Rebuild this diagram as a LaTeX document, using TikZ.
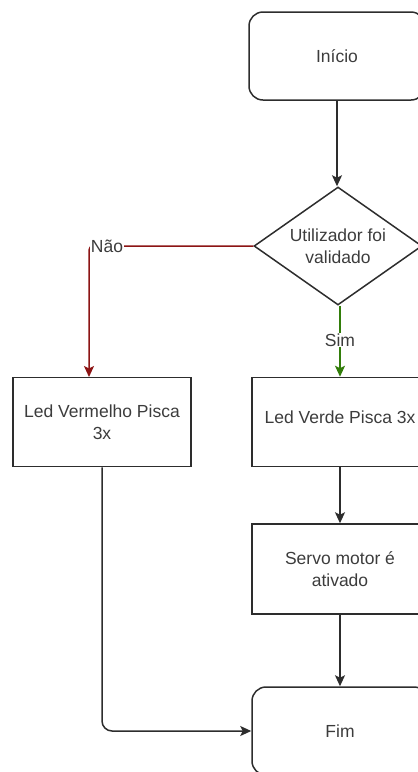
\documentclass[tikz,border=0pt]{standalone}
\usepackage{fontspec}
\setmainfont{Liberation Sans}
\usetikzlibrary{arrows.meta,shapes.geometric}
\definecolor{edgegray}{RGB}{45,45,45}
\definecolor{txtgray}{RGB}{60,60,60}
\definecolor{noRed}{RGB}{140,20,20}
\definecolor{yesGreen}{RGB}{50,125,10}
\tikzset{
  x=1pt, y=-1pt,
  every node/.style={font=\fontsize{17.5}{22}\selectfont, text=txtgray},
  terminal/.style={draw=edgegray, line width=1.5pt, rounded corners=14pt,
    minimum width=176pt, minimum height=88pt, inner sep=0pt},
  process/.style={draw=edgegray, line width=1.5pt,
    minimum width=178pt, minimum height=89pt, inner sep=0pt, align=center},
  decision/.style={draw=edgegray, line width=1.5pt, diamond, aspect=1.42,
    minimum width=168pt, minimum height=118pt, inner sep=0pt, align=center},
  tip/.style={-{Stealth[length=11pt,width=10pt,inset=2.5pt,#1]}},
  flow/.style={draw=edgegray, line width=1.5pt, tip={fill=edgegray}},
  edgelabel/.style={fill=white, inner sep=1pt}
}
\begin{document}
\begin{tikzpicture}
\useasboundingbox (0,0) rectangle (418,772);
\begin{scope}
\clip (0,0) rectangle (418,772);
% start / end terminals
\node[terminal] (start) at (337,56) {Início};
\node[terminal] (fim) at (340,731) {Fim};
% decision
\node[decision] (check) at (338,246) {Utilizador foi\\validado};
% actions
\node[process] (red) at (102,422) {Led Vermelho Pisca\\3x};
\node[process, minimum width=176pt] (green) at (340,422) {\raisebox{10pt}{Led Verde Pisca 3x}};
\node[process, minimum width=176pt, minimum height=90pt] (servo) at (340,569) {Servo motor é\\ativado};
% connectors
\coordinate (redcorner) at (89,246);
\coordinate (redend) at (89,377);
\draw[flow] (start.south) -- (start.south |- check.north);
\draw[flow, draw=noRed, tip={fill=noRed}, rounded corners=4pt]
  (check.west) -- (redcorner) -- (redend);
\node[edgelabel] (nao) at (107,246) {Não};
\draw[flow, draw=yesGreen, tip={fill=yesGreen}]
  (check.south -| green.north) -- (green.north);
\node[edgelabel] (sim) at (340,340) {Sim};
\draw[flow] (green.south) -- (servo.north);
\draw[flow] (servo.south) -- (fim.north);
\draw[flow, rounded corners=10pt] (red.south) -- (red.south |- fim.west) -- (fim.west);
\end{scope}
\end{tikzpicture}
\end{document}
